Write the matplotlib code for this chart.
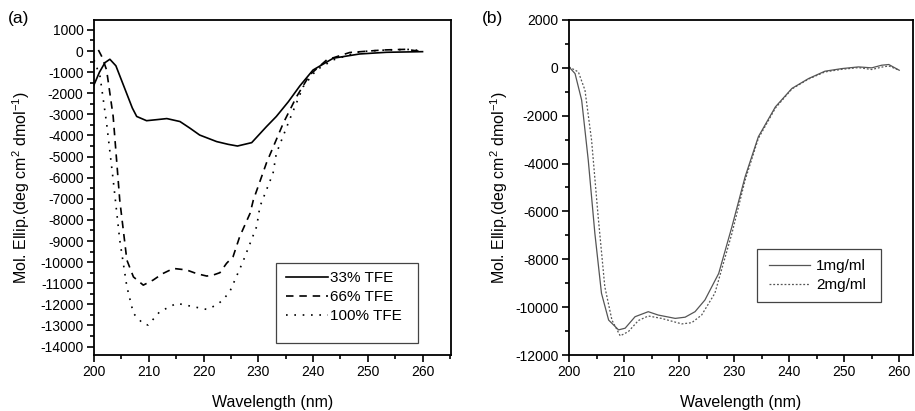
import numpy as np
import matplotlib
matplotlib.use("Agg")
import matplotlib.pyplot as plt
from matplotlib.ticker import MultipleLocator
from matplotlib.patches import Rectangle

plt.rcParams["font.family"] = ["Liberation Sans", "DejaVu Sans"]
plt.rcParams["mathtext.fontset"] = "custom"
plt.rcParams["mathtext.rm"] = "Liberation Sans"
plt.rcParams["mathtext.it"] = "Liberation Sans:italic"
plt.rcParams["axes.unicode_minus"] = False

# panel (a): CD spectra in TFE
wl_33 = [200, 201, 202, 202.9, 204, 205.5, 207, 207.8, 209.6, 211.5, 213.3, 215.7, 217.5,
         219.3, 222.4, 224.5, 226.2, 228.8, 231.5, 233.3, 235.5, 237.6, 240, 243.7,
         248.5, 253.4, 260]
ell_33 = [-1600, -1000, -550, -390, -700, -1700, -2700, -3100, -3300, -3250, -3200, -3340, -3650,
          -3980, -4290, -4420, -4500, -4340, -3580, -3100, -2400, -1650, -900, -340,
          -140, -60, -30]

wl_66 = [200.8, 201.5, 202.3, 203.5, 204.7, 206, 207.2, 209, 210.8, 212.5, 214.5, 216.9,
         218.8, 220.6, 221.8, 223, 224.2, 225.4, 226.6, 228.5, 229.1, 231.5, 234.6,
         237, 239.4, 242.5, 246.7, 252.8, 257, 260]
ell_66 = [50, -300, -900, -3100, -7060, -9900, -10700, -11090, -10850, -10550, -10300, -10370,
          -10550, -10660, -10610, -10500, -10060, -9740, -8800, -7690, -7060, -5300, -3400,
          -2160, -1130, -420, -70, 50, 80, -30]

wl_100 = [200, 201.1, 202.3, 203.5, 204.7, 206, 207.2, 209, 209.9, 212, 215.1, 218.1,
          220.6, 222.4, 223.5, 224.8, 227.2, 229.7, 230.3, 232.7, 233.3, 235.8, 238.2,
          240.6, 243.7, 248.5, 253.4, 258.3, 260]
ell_100 = [-420, -1200, -3420, -6100, -8950, -11160, -12430, -12930, -12980, -12350, -11950, -12110,
           -12240, -12030, -11800, -11400, -9980, -8320, -7370, -5790, -4850, -3200, -1690,
           -900, -420, -30, 50, 80, -30]

# panel (b): CD spectra at two concentrations
wl_b1 = [200, 201.1, 202.3, 203.5, 204.7, 205.9, 207.2, 209, 210.2, 212, 214.4, 216.2,
         219.3, 221.1, 222.9, 224.7, 227.2, 229.6, 232, 234.4, 237.5, 240.5, 243.5,
         246.5, 249.6, 252.6, 255, 256.8, 258.1, 260]
ell_b1 = [40, -240, -1350, -3860, -6920, -9420, -10540, -10950, -10880, -10400, -10190, -10330,
          -10470, -10420, -10190, -9700, -8590, -6640, -4550, -2880, -1630, -860, -450,
          -140, -30, 40, 0, 110, 140, -100]

wl_b2 = [200, 201.7, 202.9, 204.1, 205.3, 206.5, 207.8, 209.3, 210.8, 212.6, 214.4, 216.8,
         220.5, 222.3, 224.1, 226.5, 229.6, 232, 234.4, 237.5, 240.5, 243.5,
         246.5, 249.6, 252.6, 255, 256.8, 258.1, 260]
ell_b2 = [40, -170, -930, -3020, -6220, -9140, -10540, -11200, -11020, -10560, -10370, -10470,
          -10700, -10650, -10330, -9420, -6920, -4690, -2950, -1680, -880, -470,
          -170, -60, 10, -70, 30, 80, -100]

W, H = 915, 411
fig = plt.figure(figsize=(W / 100, H / 100), dpi=100)
ax1 = fig.add_axes([94 / W, 1 - 355 / H, (451 - 94) / W, (355 - 20) / H])
ax2 = fig.add_axes([569 / W, 1 - 355 / H, (913 - 569) / W, (355 - 20) / H])

ax1.plot(wl_33, ell_33, color="black", lw=1.2, ls="-", label="33% TFE")
ax1.plot(wl_66, ell_66, color="black", lw=1.2, ls=(0, (4.5, 3.5)), label="66% TFE")
ax1.plot(wl_100, ell_100, color="black", lw=1.2, ls=(0, (1, 4)), label="100% TFE")
ax1.set_xlim(200, 265.2)
ax1.set_ylim(-14400, 1470)
ax1.yaxis.set_major_locator(MultipleLocator(1000))
ax1.yaxis.set_minor_locator(MultipleLocator(500))

ax2.plot(wl_b1, ell_b1, color="#555555", lw=0.9, ls="-", label="1mg/ml")
ax2.plot(wl_b2, ell_b2, color="#555555", lw=0.9, ls=(0, (1.5, 1.5)), label="2mg/ml")
ax2.set_xlim(200, 262.5)
ax2.set_ylim(-12000, 2000)
ax2.yaxis.set_major_locator(MultipleLocator(2000))
ax2.yaxis.set_minor_locator(MultipleLocator(1000))

for ax in (ax1, ax2):
    ax.xaxis.set_major_locator(MultipleLocator(10))
    ax.xaxis.set_minor_locator(MultipleLocator(5))
    ax.tick_params(which="both", direction="out", labelsize=10, width=1.2, top=False, right=False)
    ax.tick_params(which="major", length=5, pad=2.5)
    ax.tick_params(which="minor", length=3)
    for s in ax.spines.values():
        s.set_linewidth(1.3)
    ax.set_xlabel("Wavelength (nm)", fontsize=11.5)
    ax.set_ylabel(r"Mol. Ellip.(deg cm$^2$ dmol$^{-1}$)", fontsize=11.5)
    ax.xaxis.set_label_coords(0.5, -0.118)

ax1.yaxis.set_label_coords(-0.174, 0.5)
ax2.yaxis.set_label_coords(-0.172, 0.5)

# legends: frameless text rows plus a plain box around them
def boxed_legend(ax, box, anchor, handlelength, textpad):
    x0, y0, x1, y1 = box
    fig.patches.append(Rectangle((x0 / W, 1 - y1 / H), (x1 - x0) / W, (y1 - y0) / H,
                                 transform=fig.transFigure, fill=False,
                                 edgecolor="#444444", lw=0.9, zorder=5))
    leg = ax.legend(loc="upper left", bbox_to_anchor=(anchor[0] / W, 1 - anchor[1] / H),
                    bbox_transform=fig.transFigure, frameon=False, fontsize=11,
                    handlelength=handlelength, handletextpad=textpad, labelspacing=0.33,
                    borderpad=0, borderaxespad=0)
    return leg

boxed_legend(ax1, (276, 263, 418, 343), (286, 271), 2.75, 0.15)
boxed_legend(ax2, (757, 249, 881, 302), (769, 259), 2.7, 0.4)

fig.text(8 / W, 1 - 19 / H, "(a)", fontsize=12.5, va="center", ha="left")
fig.text(482 / W, 1 - 19 / H, "(b)", fontsize=12.5, va="center", ha="left")

fig.savefig("out.png", dpi=100)
